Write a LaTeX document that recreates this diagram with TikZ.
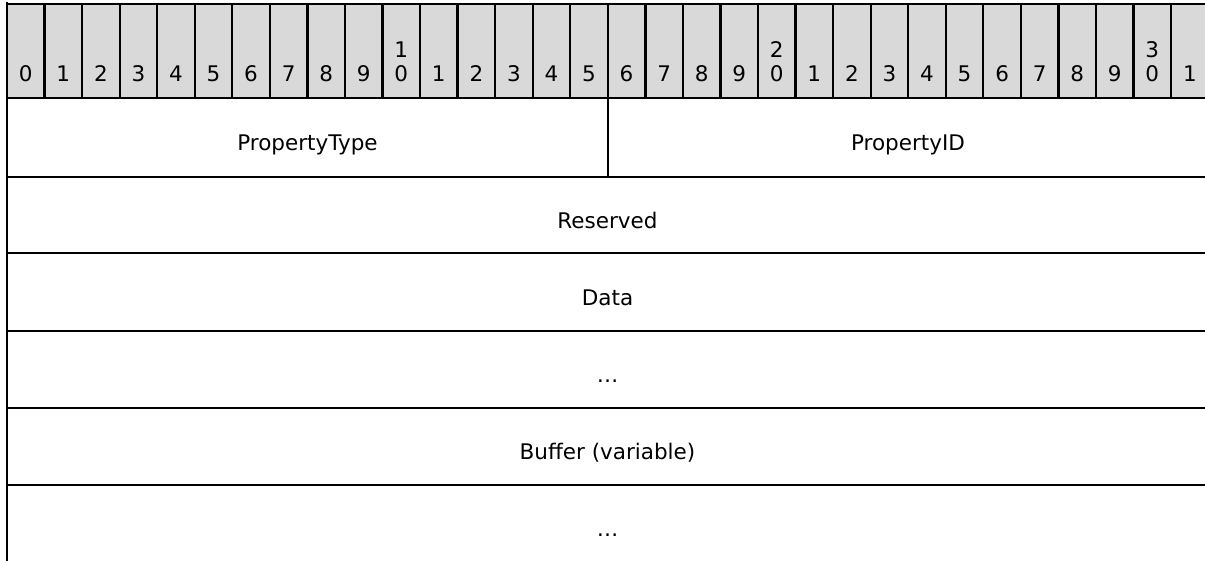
\documentclass[tikz,border=0pt]{standalone}
\usepackage{fontspec}
\setmainfont{DejaVu Sans}
\definecolor{hdrgray}{HTML}{D9D9D9}
\begin{document}
\begin{tikzpicture}[x=1pt,y=-1pt,
  rule/.style={line width=2.8pt, black},
  hdr/.style={fill=hdrgray, draw=black, line width=2.3pt},
  lbl/.style={anchor=base, inner sep=0pt, font=\fontsize{21.5}{24}\selectfont, text=black}]
\useasboundingbox (0,0) rectangle (1205,560);
\clip (0,0) rectangle (1205,560);
% header cells
\foreach \i in {0,...,31} {
  \pgfmathsetmacro\xa{7+37.55*\i}
  \pgfmathsetmacro\xc{\xa+18.78}
  \pgfmathtruncatemacro\u{mod(\i,10)}
  \pgfmathtruncatemacro\t{div(\i,10)}
  \draw[hdr] (\xa,4) rectangle ++(37.55,94);
  \node[lbl] (b\i) at (\xc,81) {\u};
  \ifnum\u=0 \ifnum\i>0
    \node[lbl] (t\i) at (\xc,57) {\t};
  \fi\fi
}
% row rules
\draw[rule] (7,4) -- (1210,4);
\foreach \y in {98,177,253,331,408,485} {
  \draw[rule] (7,\y) -- (1210,\y);
}
\draw[rule] (7,2) -- (7,562);
\draw[rule] (608,98) -- (608,177);
% field labels
\node[lbl] (ptype) at (307.5,150) {PropertyType};
\node[lbl] (pid) at (908,150) {PropertyID};
\node[lbl] (res) at (607.5,228) {Reserved};
\node[lbl] (data) at (607.5,305) {Data};
\node[lbl] (dots1) at (607.5,382) {…};
\node[lbl] (buf) at (607.5,459) {Buffer (variable)};
\node[lbl] (dots2) at (607.5,536) {…};
\end{tikzpicture}
\end{document}
